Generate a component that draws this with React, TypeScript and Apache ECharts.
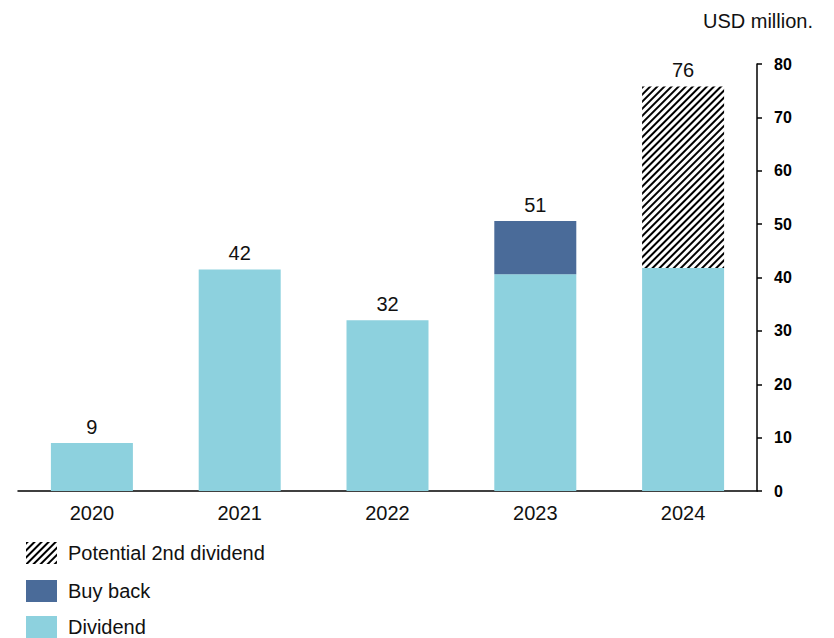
import React, { useEffect, useRef } from "react";
import * as echarts from "echarts";

const categories = ["2020", "2021", "2022", "2023", "2024"];
const dividend = [9, 41.5, 32, 40.6, 41.8];
const buyBack = [0, 0, 0, 10, 0];
const potential = [0, 0, 0, 0, 34];
const totals = [9, 42, 32, 51, 76];
const topSeries = ["Dividend", "Dividend", "Dividend", "Buy back", "Potential 2nd dividend"];
const legendNames = ["Potential 2nd dividend", "Buy back", "Dividend"];

const FONT = "'Liberation Sans', Arial, sans-serif";

export default function App() {
  const ref = useRef<HTMLDivElement>(null);
  useEffect(() => {
    const chart = echarts.init(ref.current!, undefined, { renderer: "svg" });
    const mk = (name: string, vals: number[]) =>
      vals.map((v, i) =>
        topSeries[i] === name
          ? { value: v, label: { show: true, formatter: String(totals[i]) } }
          : v
      );
    const labelStyle = {
      show: false,
      position: "top" as const,
      distance: 6,
      color: "#111",
      fontSize: 20,
      fontFamily: FONT,
    };
    const legendTops = [542, 580, 616];
    chart.setOption({
      animation: false,
      textStyle: { fontFamily: FONT },
      grid: { left: 18, right: 77, top: 64, bottom: 147 },
      title: {
        text: "USD million.",
        right: 16,
        top: 6,
        textStyle: { fontSize: 20, fontWeight: "normal", color: "#111", fontFamily: FONT },
      },
      legend: legendNames.map((n, i) => ({
        orient: "vertical",
        left: 26,
        top: legendTops[i],
        itemWidth: 31,
        itemHeight: 22,
        icon: "rect",
        data: [n],
        textStyle: { fontSize: 20, color: "#111", fontFamily: FONT, padding: [0, 0, 0, 6] },
        selectedMode: false,
        padding: 0,
      })),
      xAxis: {
        type: "category",
        data: categories,
        axisLine: { show: true, lineStyle: { color: "#000", width: 1.5 } },
        axisTick: { show: false },
        axisLabel: { color: "#111", fontSize: 20, margin: 12, fontFamily: FONT },
      },
      yAxis: {
        type: "value",
        position: "right",
        min: 0,
        max: 80,
        interval: 10,
        splitLine: { show: false },
        axisLine: { show: true, lineStyle: { color: "#000", width: 1.5 } },
        axisTick: { show: true, length: 5, lineStyle: { color: "#000", width: 1.5 } },
        axisLabel: { color: "#000", fontSize: 16, fontWeight: "bold", margin: 17, fontFamily: FONT },
      },
      series: [
        {
          name: "Dividend",
          type: "bar",
          stack: "t",
          barWidth: 82,
          data: mk("Dividend", dividend),
          itemStyle: { color: "#8dd1de" },
          label: labelStyle,
        },
        {
          name: "Buy back",
          type: "bar",
          stack: "t",
          barWidth: 82,
          data: mk("Buy back", buyBack),
          itemStyle: { color: "#4a6b99" },
          label: labelStyle,
        },
        {
          name: "Potential 2nd dividend",
          type: "bar",
          stack: "t",
          barWidth: 82,
          data: mk("Potential 2nd dividend", potential),
          itemStyle: {
            color: "#ffffff",
            decal: {
              symbol: "rect",
              symbolSize: 1,
              color: "#000",
              backgroundColor: "#fff",
              dashArrayX: [1, 0],
              dashArrayY: [1.7, 2.5],
              rotation: -Math.PI / 4,
            },
          },
          label: labelStyle,
        },
      ],
    });
    return () => chart.dispose();
  }, []);
  return <div ref={ref} style={{ width: 834, height: 638, position: "absolute", left: 0, top: 0 }} />;
}
